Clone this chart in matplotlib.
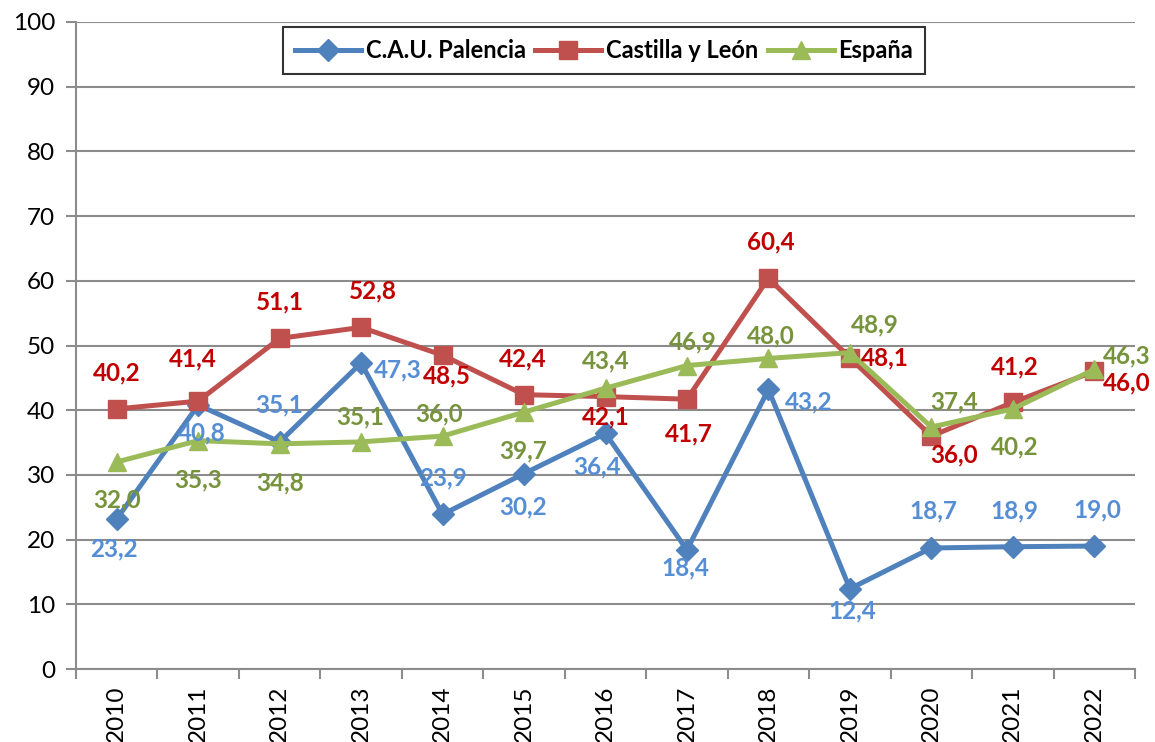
import matplotlib
matplotlib.use("Agg")
import matplotlib.pyplot as plt
from matplotlib.lines import Line2D

years = ["2010", "2011", "2012", "2013", "2014", "2015", "2016",
         "2017", "2018", "2019", "2020", "2021", "2022"]
palencia = [23.2, 40.8, 35.1, 47.3, 23.9, 30.2, 36.4, 18.4, 43.2, 12.4, 18.7, 18.9, 19.0]
castilla = [40.2, 41.4, 51.1, 52.8, 48.5, 42.4, 42.1, 41.7, 60.4, 48.1, 36.0, 41.2, 46.0]
espana = [32.0, 35.3, 34.8, 35.1, 36.0, 39.7, 43.4, 46.9, 48.0, 48.9, 37.4, 40.2, 46.3]
series_names = ["C.A.U. Palencia", "Castilla y León", "España"]

# label offsets in pixels (dx, dy upward)
off_pal = [(-3, -30), (4, -28), (0, 37), (37, -7), (0, 36), (-1, -33), (-8, -33),
           (-2, -18), (40, -12), (2, -22), (2, 37), (2, 36), (3, 36)]
off_cas = [(0, 36), (-5, 42), (0, 36), (12, 36), (4, -21), (-1, 36), (0, -20),
           (2, -35), (2, 36), (35, 0), (23, -19), (2, 36), (32, -12)]
off_esp = [(0, -38), (0, -39), (0, -39), (-1, 25), (-4, 22), (-1, -39), (0, 27),
           (6, 24), (2, 23), (25, 28), (23, 25), (2, -38), (32, 14)]

FONT = "Lato"
FS = 17.5
plt.rcParams['font.family'] = [FONT, 'DejaVu Sans']

fig = plt.figure(figsize=(11.55, 7.42), dpi=100)
ax = fig.add_axes([76/1155, 73/742, (1135-76)/1155, (669-22)/742])

x = list(range(len(years)))
specs = [
    (palencia, "#4F81BD", "D", 11, "#558ED5", off_pal),
    (castilla, "#C0504D", "s", 12.5, "#C00000", off_cas),
    (espana, "#9BBB59", "^", 13.5, "#77933C", off_esp),
]
handles = []
for (vals, col, mk, ms, lcol, offs), name in zip(specs, series_names):
    ax.plot(x, vals, color=col, lw=3.6, marker=mk, markersize=ms,
            markeredgecolor=col, markerfacecolor=col, zorder=3, solid_joinstyle='round')
    handles.append(Line2D([0], [0], color=col, lw=3.6, marker=mk, markersize=ms,
                          markerfacecolor=col, markeredgecolor=col))
    for xi, v, (dx, dy) in zip(x, vals, offs):
        ax.annotate(f"{v:.1f}".replace('.', ','), (xi, v), xytext=(dx, dy),
                    textcoords='offset pixels', ha='center', va='center',
                    fontsize=FS, fontweight='bold', color=lcol, zorder=4)

ax.set_xlim(-0.5, len(years) - 0.5)
ax.set_ylim(0, 100)
ax.set_yticks(range(0, 101, 10))
ax.set_xticks(x)
ax.set_xticklabels(years, rotation=90, fontsize=FS)
ax.set_xticks([i - 0.5 for i in range(len(years) + 1)], minor=True)
ax.tick_params(axis='x', which='major', length=0, pad=12)
ax.tick_params(axis='x', which='minor', length=7, width=1.5, color='#8C8C8C', direction='out')
ax.tick_params(axis='y', length=7, width=1.5, color='#8C8C8C', labelsize=FS, pad=8)
ax.yaxis.grid(True, color='#8C8C8C', lw=1.5)
ax.set_axisbelow(True)
for s in ['top', 'right']:
    ax.spines[s].set_visible(False)
for s in ['left', 'bottom']:
    ax.spines[s].set_color('#8C8C8C')
    ax.spines[s].set_linewidth(1.5)

leg = ax.legend(handles, series_names, loc='upper center', bbox_to_anchor=(0.4985, 0.992),
                borderaxespad=0, ncol=3, frameon=True, fancybox=False, handlelength=2.8,
                columnspacing=0.4, handletextpad=0.2, borderpad=0.5,
                prop={'family': FONT, 'weight': 'bold', 'size': 17})
leg.get_frame().set_edgecolor('black')
leg.get_frame().set_linewidth(1.5)

fig.savefig("out.png", dpi=100)
